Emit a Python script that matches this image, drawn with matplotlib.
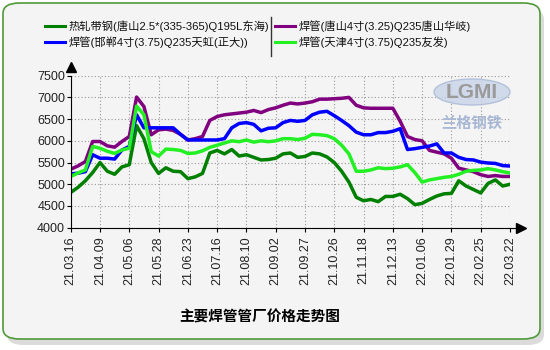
import numpy as np
import matplotlib
matplotlib.use('Agg')
import matplotlib.pyplot as plt
from matplotlib.patches import FancyBboxPatch, Ellipse

plt.rcParams['font.family'] = ['Liberation Sans', 'Noto Sans CJK SC', 'DejaVu Sans']

tick_labels = ['21.03.16', '21.04.09', '21.05.06', '21.05.28', '21.06.23', '21.07.16',
               '21.08.10', '21.09.02', '21.09.27', '21.10.26', '21.11.18', '21.12.13',
               '22.01.06', '22.01.29', '22.02.25', '22.03.22']

names = ['热轧带钢(唐山2.5*(335-365)Q195L东海)', '焊管(唐山4寸(3.25)Q235唐山华岐)',
         '焊管(邯郸4寸(3.75)Q235天虹(正大))', '焊管(天津4寸(3.75)Q235友发)']
colors = ['#008000', '#800080', '#0000ff', '#22f022']

# price series, sampled 4 times per tick interval
hot_rolled = [4810, 4930, 5080, 5270, 5500, 5300, 5230, 5400, 5450, 6350, 6050, 5500, 5250, 5380, 5300,
              5290, 5130, 5170, 5250, 5720, 5780, 5700, 5800, 5650, 5680, 5620, 5560, 5570, 5600, 5700,
              5720, 5620, 5640, 5720, 5700, 5630, 5500, 5300, 5050, 4700, 4620, 4650, 4600, 4720, 4720,
              4770, 4670, 4530, 4560, 4650, 4730, 4780, 4790, 5080, 4960, 4880, 4800, 5020, 5100, 4960, 5000]
tangshan = [5346, 5423, 5523, 5985, 5985, 5885, 5854, 5985, 6100, 7008, 6790, 6140, 6254, 6270, 6240,
            6150, 6020, 6050, 6100, 6470, 6560, 6600, 6620, 6640, 6660, 6700, 6650, 6720, 6760, 6820,
            6870, 6850, 6870, 6900, 6960, 6960, 6970, 6980, 7000, 6820, 6760, 6750, 6750, 6750, 6750,
            6450, 6100, 6030, 6000, 5780, 5740, 5700, 5600, 5370, 5330, 5290, 5220, 5180, 5200, 5180, 5180]
handan = [5240, 5255, 5290, 5680, 5600, 5600, 5580, 5790, 5870, 6600, 6300, 6300, 6300, 6300, 6300,
          6150, 6020, 6020, 6020, 6020, 6020, 6050, 6300, 6400, 6420, 6380, 6230, 6290, 6300, 6420,
          6470, 6450, 6470, 6600, 6660, 6680, 6580, 6470, 6350, 6200, 6140, 6140, 6190, 6190, 6220,
          6280, 5800, 5820, 5850, 5880, 5930, 5720, 5720, 5620, 5570, 5560, 5510, 5490, 5480, 5430, 5420]
tianjin = [5180, 5260, 5330, 5870, 5830, 5760, 5710, 5790, 5830, 6800, 6600, 5750, 5650, 5810, 5800,
           5780, 5710, 5720, 5770, 5850, 5900, 5950, 6000, 5980, 6020, 5970, 6000, 5980, 6000, 6050,
           6050, 6030, 6060, 6150, 6140, 6120, 6050, 5900, 5700, 5300, 5300, 5330, 5380, 5360, 5370,
           5400, 5450, 5270, 5050, 5100, 5130, 5160, 5180, 5230, 5300, 5320, 5330, 5360, 5330, 5290, 5260]

series = [hot_rolled, tangshan, handan, tianjin]

fig = plt.figure(figsize=(5.5, 3.5), dpi=100)
fig.patch.set_facecolor('white')

# rounded frame with shadow
shadow = FancyBboxPatch((7 / 550, 5 / 350), 537 / 550, 336 / 350,
                        boxstyle='round,pad=0,rounding_size=0.03', transform=fig.transFigure,
                        facecolor='#c4c4c4', edgecolor='none', alpha=0.6, zorder=-3)
frame = FancyBboxPatch((3 / 550, 11 / 350), 537 / 550, 336 / 350,
                       boxstyle='round,pad=0,rounding_size=0.03', transform=fig.transFigure,
                       facecolor='#f4f4f4', edgecolor='#4f9a3c', linewidth=1.2, zorder=-2)
fig.patches.extend([shadow, frame])

ax = fig.add_axes([70.7 / 550, 1 - 227.7 / 350, 439.3 / 550, 152 / 350])
ax.set_facecolor('#f4f4f4')
x = np.arange(len(hot_rolled))
for s, c in zip(series, colors):
    ax.plot(x, s, color=c, linewidth=2.5, solid_joinstyle='round')

ax.set_xlim(0, 60)
ax.set_ylim(4000, 7500)
ax.set_xticks(np.arange(0, 61, 4))
ax.set_xticklabels(tick_labels, rotation=90, fontsize=9, color='#222222')
ax.set_yticks(np.arange(4000, 7501, 500))
ax.tick_params(axis='y', labelsize=9, length=3, pad=1, labelcolor='#222222')
ax.tick_params(axis='x', length=3, pad=3)
ax.grid(True, linestyle=(0, (1, 2)), color='#999999', linewidth=0.8)
for sp in ['top', 'right']:
    ax.spines[sp].set_visible(False)

# axis arrows
ax.plot([1.0, 1.012], [0, 0], color='black', linewidth=0.8, transform=ax.transAxes, clip_on=False)
ax.plot([1.024], [0], marker='>', markersize=7, color='black', transform=ax.transAxes, clip_on=False)
ax.plot([0], [1.055], marker='^', markersize=7, color='black', transform=ax.transAxes, clip_on=False)

# watermark
logo = Ellipse((472 / 550, 1 - 92 / 350), 76 / 550, 26 / 350, transform=fig.transFigure,
               facecolor='#c8d4e8', edgecolor='#a8b8d4', linewidth=1, alpha=0.8, zorder=3)
fig.patches.append(logo)
fig.text(472 / 550, 1 - 92 / 350, 'LGMI', fontsize=15, color='#9a9a9a', ha='center', va='center',
         fontweight='bold', zorder=4)
fig.text(472 / 550, 1 - 124 / 350, '兰格钢铁', fontsize=11, color='#a8b8d4', ha='center', va='center',
         fontweight='bold', zorder=4)

# legend
leg_pos = [(45, 26), (275, 26), (45, 42), (275, 42)]
for (lx, ly), name, c in zip(leg_pos, names, colors):
    fig.add_artist(plt.Line2D([lx / 550, (lx + 20) / 550], [1 - ly / 350, 1 - ly / 350],
                              color=c, linewidth=2.2))
    fig.text((lx + 24) / 550, 1 - ly / 350, name, fontsize=8.1, va='center', ha='left', color='#111111')
fig.add_artist(plt.Line2D([271 / 550, 271 / 550], [1 - 17 / 350, 1 - 56 / 350], color='#333333', linewidth=1))

fig.text(260 / 550, 1 - 318 / 350, '主要焊管管厂价格走势图', fontsize=10.5, fontweight='bold',
         ha='center', va='center', color='black')

fig.savefig('out.png', dpi=100)
